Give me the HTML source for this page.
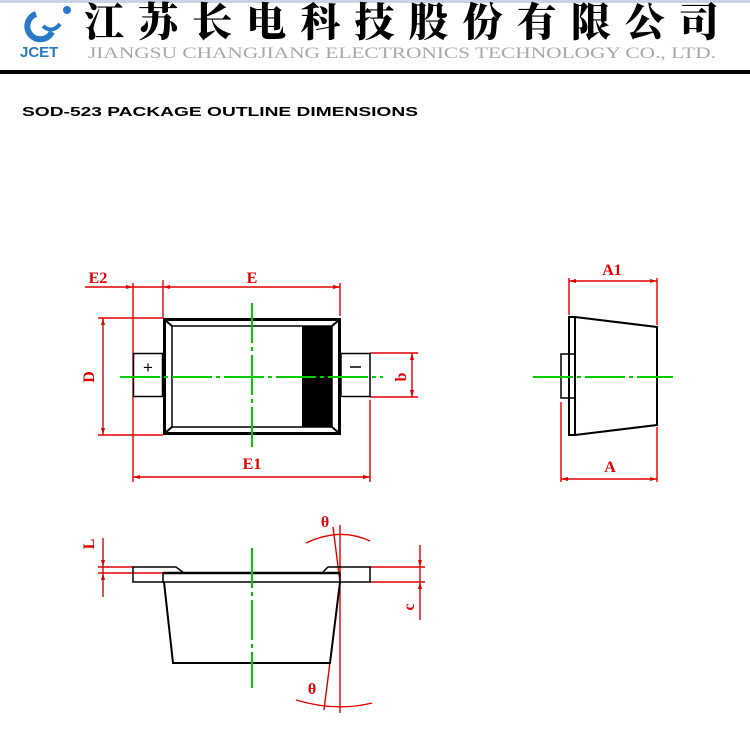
<!DOCTYPE html>
<html><head><meta charset="utf-8"><style>
html,body{margin:0;padding:0;background:#fff;}
body{width:750px;height:750px;overflow:hidden;position:relative;font-family:"Liberation Sans",sans-serif;}
</style></head><body>
<svg width="750" height="750" viewBox="0 0 750 750" xmlns="http://www.w3.org/2000/svg" style="position:absolute;left:0;top:0">
<rect x="0" y="0" width="750" height="3" fill="#c8d4e4"/>
<path d="M36 14 A13 13 0 1 0 52 32" fill="none" stroke="#2a78c8" stroke-width="6"/>
<path d="M43 26 Q52 34 60 24" fill="none" stroke="#2a78c8" stroke-width="4"/>
<circle cx="67" cy="10" r="4" fill="#2a78c8"/>
<text x="20" y="57" font-family="Liberation Sans" font-weight="bold" font-size="15" fill="#2a78c8">JCET</text>
<text x="84" y="36" font-family="'Noto Serif CJK SC','WenQuanYi Zen Hei',serif" font-weight="900" font-size="40" fill="#000" textLength="635" lengthAdjust="spacing">江苏长电科技股份有限公司</text>
<text x="88" y="58" font-family="Liberation Serif" font-size="15.5" fill="#a8a8a8" textLength="628" lengthAdjust="spacingAndGlyphs">JIANGSU CHANGJIANG ELECTRONICS TECHNOLOGY CO., LTD.</text>
<rect x="0" y="70" width="750" height="4" fill="#000"/>
<text x="22" y="116" font-family="Liberation Sans" font-weight="bold" font-size="13" fill="#000" textLength="396" lengthAdjust="spacingAndGlyphs">SOD-523  PACKAGE  OUTLINE  DIMENSIONS</text>

<g fill="none" stroke="#e00000" stroke-width="1.4">
<line x1="85" y1="287" x2="163" y2="287"/><line x1="163" y1="287" x2="340" y2="287"/>
<line x1="133" y1="283" x2="133" y2="482"/><line x1="163" y1="280" x2="163" y2="318"/>
<line x1="340" y1="283" x2="340" y2="316"/><line x1="370" y1="400" x2="370" y2="482"/>
<line x1="133" y1="477" x2="370" y2="477"/>
<line x1="103" y1="318" x2="103" y2="435"/><line x1="98" y1="318" x2="163" y2="318"/><line x1="98" y1="435" x2="163" y2="435"/>
<line x1="412" y1="353" x2="412" y2="397"/><line x1="370" y1="353" x2="418" y2="353"/><line x1="370" y1="397" x2="418" y2="397"/>
<line x1="569" y1="281" x2="657" y2="281"/><line x1="569" y1="278" x2="569" y2="315"/><line x1="657" y1="278" x2="657" y2="325"/>
<line x1="561" y1="479" x2="657" y2="479"/><line x1="561" y1="402" x2="561" y2="482"/><line x1="657" y1="427" x2="657" y2="482"/>
<line x1="103" y1="538" x2="103" y2="597"/><line x1="98" y1="567" x2="133" y2="567"/><line x1="98" y1="573" x2="163" y2="573"/>
<line x1="420" y1="545" x2="420" y2="620"/><line x1="370" y1="567" x2="425" y2="567"/><line x1="370" y1="582" x2="425" y2="582"/>
<line x1="340" y1="525" x2="340" y2="713"/><line x1="333" y1="527" x2="340" y2="582"/><line x1="340" y1="582" x2="324" y2="710"/>
<path d="M306 543 Q340 527 370 541"/><path d="M296 700 Q336 712 372 703"/>
</g>
<g fill="#e00000">
<polygon points="163,287 170,285 170,289"/><polygon points="340,287 333,285 333,289"/><polygon points="133,287 126,285 126,289"/>
<polygon points="133,477 140,475 140,479"/><polygon points="370,477 363,475 363,479"/>
<polygon points="103,318 101,325 105,325"/><polygon points="103,435 101,428 105,428"/>
<polygon points="412,353 410,360 414,360"/><polygon points="412,397 410,390 414,390"/>
<polygon points="569,281 576,279 576,283"/><polygon points="657,281 650,279 650,283"/>
<polygon points="561,479 568,477 568,481"/><polygon points="657,479 650,477 650,481"/>
<polygon points="103,567 101,560 105,560"/><polygon points="103,573 101,580 105,580"/>
<polygon points="420,567 418,560 422,560"/><polygon points="420,582 418,589 422,589"/>
</g>
<g font-family="Liberation Serif" font-size="16" font-weight="bold" fill="#e00000" text-anchor="middle">
<text x="98" y="283">E2</text><text x="252" y="283">E</text><text x="252" y="469">E1</text>
<text x="612" y="275">A1</text><text x="610" y="472">A</text>
<text transform="translate(94,377) rotate(-90)">D</text>
<text transform="translate(406,377) rotate(-90)">b</text>
<text transform="translate(94,544) rotate(-90)">L</text>
<text transform="translate(414,607) rotate(-90)">c</text>
<text x="325" y="527">θ</text><text x="312" y="694">θ</text>
</g>

<g fill="none" stroke="#000">
<rect x="164.5" y="319.5" width="175" height="114" stroke-width="3"/>
<rect x="172" y="326" width="160" height="101" stroke-width="1.5"/>
<line x1="165" y1="320" x2="172" y2="326" stroke-width="2"/><line x1="339" y1="320" x2="332" y2="326" stroke-width="2"/>
<line x1="165" y1="433" x2="172" y2="427" stroke-width="2"/><line x1="339" y1="433" x2="332" y2="427" stroke-width="2"/>
<rect x="133.5" y="353.5" width="29" height="43" stroke-width="1.5"/>
<rect x="341" y="353.5" width="29" height="43" stroke-width="1.5"/>
</g>
<rect x="302" y="326" width="30" height="101" fill="#000"/>
<text x="148" y="373" font-family="Liberation Sans" font-size="17" text-anchor="middle">+</text>
<line x1="350" y1="367" x2="361" y2="367" stroke="#000" stroke-width="1.5"/>

<g fill="none" stroke="#000" stroke-width="1.5">
<rect x="569" y="317" width="6" height="118" stroke-width="2"/>
<polygon points="575,317 657,327 657,425 575,435" stroke-width="2"/>
<rect x="561" y="354" width="14" height="44"/>
</g>

<g fill="none" stroke="#000" stroke-width="1.5">
<polyline points="163,582 133,582 133,567 176,567 184,573"/>
<polyline points="322,573 328,567 370,567 370,582 340,582"/>
<rect x="163" y="573" width="177" height="9"/>
<line x1="163" y1="573" x2="340" y2="573" stroke-width="2.5"/>
<polyline points="164,582 173,663 330,663 340,582" stroke-width="2"/>
</g>

<g stroke="#00cc00" stroke-width="2" stroke-dasharray="40,4,4,4">
<line x1="120" y1="377" x2="383" y2="377"/>
<line x1="252" y1="303" x2="252" y2="450"/>
<line x1="533" y1="377" x2="673" y2="377"/>
<line x1="252" y1="548" x2="252" y2="688"/>
</g>
</svg>
</body></html>
